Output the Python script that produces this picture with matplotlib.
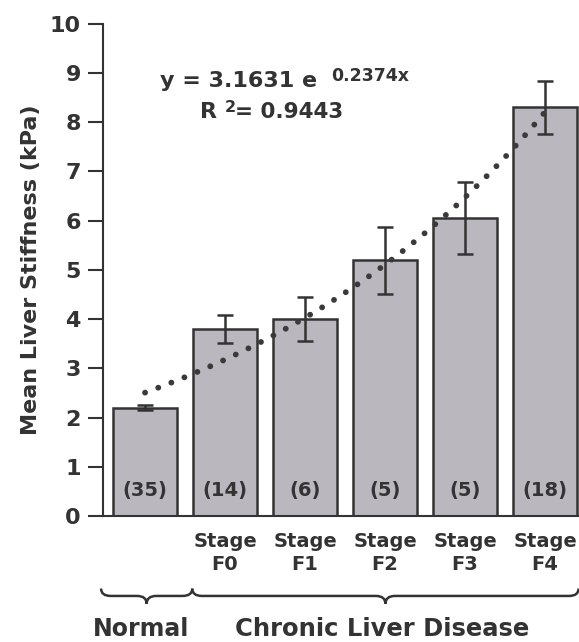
import numpy as np
import matplotlib
matplotlib.use('Agg')
import matplotlib.pyplot as plt
from matplotlib.path import Path
from matplotlib.patches import PathPatch

###: Data
groups = ['Normal', 'Stage\nF0', 'Stage\nF1', 'Stage\nF2', 'Stage\nF3', 'Stage\nF4']
means = [2.2, 3.8, 4.0, 5.2, 6.05, 8.3]
errors = [0.05, 0.28, 0.45, 0.68, 0.73, 0.53]
counts = ['(35)', '(14)', '(6)', '(5)', '(5)', '(18)']
tick_labels = ['', 'Stage\nF0', 'Stage\nF1', 'Stage\nF2', 'Stage\nF3', 'Stage\nF4']
equation = 'y = 3.1631 e'
exponent = '0.2374x'
r_squared = '= 0.9443'

ink = '#333333'
bar_color = '#bbb7be'
plt.rcParams['font.family'] = ['DejaVu Sans']
plt.rcParams['font.weight'] = 'bold'

fig = plt.figure(figsize=(5.79, 6.42), dpi=100)
ax = fig.add_axes([0.178, 0.196, 0.822, 0.767])

x = np.arange(len(means))
ax.bar(x, means, width=0.8, color=bar_color, edgecolor=ink, linewidth=1.8, zorder=2)
ax.errorbar(x, means, yerr=errors, fmt='none', ecolor=ink, elinewidth=1.8,
            capsize=6, capthick=1.8, zorder=3)

###: Exponential trend line fitted to the bar means
b, a = np.polyfit(x, np.log(means), 1)
xs = np.linspace(0, 5, 100)
ax.plot(xs, np.exp(a) * np.exp(b * xs), color='#3a3a3a', linewidth=4.2,
        linestyle=(0, (0.01, 2.4)), dash_capstyle='round', zorder=4)

for xi, c in zip(x, counts):
    ax.text(xi, 0.33, c, ha='center', va='bottom', fontsize=14, color=ink,
            fontweight='bold', zorder=5)

ax.text(0.19, 8.72, equation, fontsize=16, color=ink, fontweight='bold')
ax.text(2.32, 8.84, exponent, fontsize=12.5, color=ink, fontweight='bold')
ax.text(0.69, 8.09, 'R', fontsize=16, color=ink, fontweight='bold')
ax.text(1.0, 8.21, '2', fontsize=11.5, color=ink, fontweight='bold')
ax.text(1.13, 8.09, r_squared, fontsize=15.5, color=ink, fontweight='bold')

ax.set_xlim(-0.525, 5.425)
ax.set_ylim(0, 10)
ax.set_yticks(range(0, 11))
ax.set_xticks([])
for s in ['top', 'right']:
    ax.spines[s].set_visible(False)
ax.spines['left'].set_linewidth(1.5)
ax.spines['bottom'].set_linewidth(1.5)
ax.spines['left'].set_color(ink)
ax.spines['bottom'].set_color(ink)
ax.tick_params(axis='y', direction='out', length=11, width=1.5, color=ink,
               labelsize=16, labelcolor=ink, pad=5)
ax.set_ylabel('Mean Liver Stiffness (kPa)', fontsize=16, fontweight='bold',
              color=ink, labelpad=6)

for xi, lab in zip(x, tick_labels):
    ax.text(xi, -0.33, lab, ha='center', va='top', fontsize=14, color=ink,
            fontweight='bold', linespacing=1.25, clip_on=False)

###: Curly braces under the groups
def brace(x0, x1, ytop, ymid, ytip):
    xc = (x0 + x1) / 2
    q = 0.12
    verts = [(x0, ytop), (x0, ymid), (x0 + q, ymid),
             (xc - q, ymid), (xc, ymid), (xc, ytip),
             (xc, ymid), (xc + q, ymid),
             (x1 - q, ymid), (x1, ymid), (x1, ytop)]
    codes = [Path.MOVETO, Path.CURVE3, Path.CURVE3,
             Path.LINETO, Path.CURVE3, Path.CURVE3,
             Path.CURVE3, Path.CURVE3,
             Path.LINETO, Path.CURVE3, Path.CURVE3]
    ax.add_patch(PathPatch(Path(verts, codes), fill=False, edgecolor=ink,
                           linewidth=1.8, clip_on=False))

brace(-0.55, 0.59, -1.47, -1.62, -1.78)
brace(0.59, 5.42, -1.47, -1.62, -1.78)

ax.text(-0.05, -2.3, 'Normal', ha='center', va='center', fontsize=17,
        color=ink, fontweight='bold', clip_on=False)
ax.text(2.96, -2.3, 'Chronic Liver Disease', ha='center', va='center',
        fontsize=17.5, color=ink, fontweight='bold', clip_on=False)

fig.savefig('out.png', dpi=100, facecolor='white')
